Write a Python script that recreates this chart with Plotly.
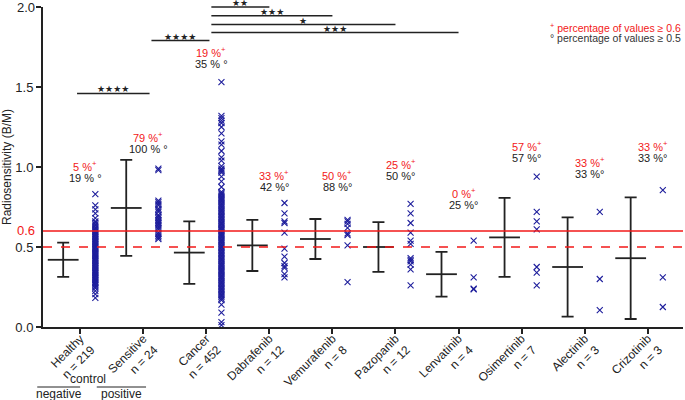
import plotly.graph_objects as go

# groups along the x axis
groups = ["Healthy", "Sensitive", "Cancer", "Dabrafenib", "Vemurafenib",
          "Pazopanib", "Lenvatinib", "Osimertinib", "Alectinib", "Crizotinib"]
n_counts = [219, 24, 452, 12, 8, 12, 4, 7, 3, 3]

# mean and SD
means = [0.42, 0.744, 0.465, 0.51, 0.55, 0.50, 0.33, 0.56, 0.375, 0.43]
sds = [0.107, 0.30, 0.195, 0.16, 0.125, 0.156, 0.14, 0.247, 0.31, 0.38]

# percentages above the two thresholds
pct_06 = [5, 79, 19, 33, 50, 25, 0, 57, 33, 33]
pct_05 = [19, 100, 35, 42, 88, 50, 25, 57, 33, 33]
pct_label_y = [1.006, 1.19, 1.72, 0.95, 0.95, 1.02, 0.84, 1.13, 1.03, 1.13]

# individual values (dense columns)
healthy_vals = [0.83, 0.76, 0.735, 0.71, 0.68, 0.66, 0.652, 0.641, 0.633, 0.622,
                0.614, 0.606, 0.598, 0.591, 0.584, 0.577, 0.569, 0.561, 0.553, 0.546,
                0.538, 0.531, 0.523, 0.516, 0.508, 0.501, 0.494, 0.486, 0.479, 0.471,
                0.463, 0.456, 0.448, 0.441, 0.433, 0.426, 0.418, 0.411, 0.403, 0.396,
                0.388, 0.381, 0.373, 0.366, 0.358, 0.351, 0.343, 0.336, 0.328, 0.321,
                0.313, 0.306, 0.298, 0.291, 0.283, 0.276, 0.268, 0.262, 0.251, 0.243,
                0.226, 0.205, 0.182]
sensitive_vals = [0.99, 0.98, 0.79, 0.78, 0.77, 0.76, 0.74, 0.73, 0.72, 0.70,
                  0.69, 0.68, 0.67, 0.66, 0.65, 0.64, 0.63, 0.62, 0.61, 0.59,
                  0.58, 0.57, 0.56, 0.55]
cancer_vals = [1.53, 1.32, 1.305, 1.29, 1.275, 1.25, 1.21, 1.16, 1.14, 1.10,
               1.06, 1.04, 1.005, 0.99, 0.982, 0.975, 0.965, 0.94, 0.91, 0.875,
               0.845, 0.836, 0.827, 0.818, 0.809, 0.80, 0.791, 0.782, 0.773, 0.764,
               0.755, 0.746, 0.737, 0.728, 0.719, 0.71, 0.701, 0.692, 0.683, 0.674,
               0.665, 0.656, 0.647, 0.638, 0.629, 0.62, 0.611, 0.602, 0.593, 0.584,
               0.575, 0.566, 0.557, 0.548, 0.539, 0.53, 0.521, 0.512, 0.503, 0.494,
               0.485, 0.476, 0.467, 0.458, 0.449, 0.44, 0.431, 0.422, 0.413, 0.404,
               0.395, 0.386, 0.377, 0.368, 0.359, 0.35, 0.341, 0.332, 0.323, 0.314,
               0.305, 0.296, 0.287, 0.278, 0.269, 0.26, 0.251, 0.242, 0.233, 0.224,
               0.215, 0.206, 0.197, 0.188, 0.178, 0.168, 0.14, 0.09, 0.03, 0.012]
dabrafenib_vals = [0.775, 0.71, 0.66, 0.65, 0.59, 0.49, 0.44, 0.40, 0.38, 0.37, 0.33, 0.31]
vemurafenib_vals = [0.67, 0.66, 0.645, 0.62, 0.585, 0.575, 0.51, 0.28]
pazopanib_vals = [0.77, 0.71, 0.65, 0.59, 0.54, 0.52, 0.43, 0.42, 0.41, 0.39, 0.36, 0.26]
lenvatinib_vals = [0.54, 0.31, 0.24, 0.235]
osimertinib_vals = [0.94, 0.72, 0.66, 0.61, 0.375, 0.34, 0.26]
alectinib_vals = [0.72, 0.30, 0.106]
crizotinib_vals = [0.856, 0.31, 0.125]
all_vals = [healthy_vals, sensitive_vals, cancer_vals, dabrafenib_vals, vemurafenib_vals,
            pazopanib_vals, lenvatinib_vals, osimertinib_vals, alectinib_vals, crizotinib_vals]

# significance bars: (from, to, height, stars)
sig_x0 = [-0.05, 1.13, 2.08, 2.08, 2.08, 2.08]
sig_x1 = [1.1, 2.05, 3.0, 4.0, 5.0, 6.0]
sig_y = [1.46, 1.79, 2.0, 1.945, 1.89, 1.84]
sig_stars = [4, 4, 2, 3, 1, 3]

RED = "#f21818"
DARK = "#222222"
BLUE = "#1e1e9c"
FONT = "Liberation Sans"


def note(text, x, y, size=12, color=DARK, xref="paper", yref="paper", **kw):
    # annotation with explicit anchors (plotly's 'auto' shifts paper-placed text)
    opts = dict(xanchor="center", yanchor="middle")
    opts.update(kw)
    fig.add_annotation(xref=xref, yref=yref, x=x, y=y, text=text, showarrow=False,
                       font=dict(size=size, color=color, family=FONT), **opts)


fig = go.Figure()

# raw values to the right of each tick
for i, vals in enumerate(all_vals):
    fig.add_trace(go.Scatter(
        x=[i + 0.24] * len(vals), y=vals, mode="markers",
        marker=dict(symbol="x-thin", size=6, line=dict(width=1.1, color=BLUE)),
        showlegend=False, hoverinfo="y"))

# mean +/- SD to the left of each tick
fig.add_trace(go.Scatter(
    x=[i - 0.27 for i in range(len(groups))], y=means, mode="markers",
    marker=dict(symbol="line-ew", size=22, line=dict(width=1.8, color=DARK)),
    error_y=dict(type="data", array=sds, width=6, thickness=1.8, color=DARK),
    showlegend=False))

# threshold lines
fig.add_shape(type="line", xref="paper", x0=0, x1=1, yref="y", y0=0.6, y1=0.6,
              line=dict(color=RED, width=1.5))
fig.add_shape(type="line", xref="paper", x0=0, x1=1, yref="y", y0=0.5, y1=0.5,
              line=dict(color=RED, width=1.5, dash="dash"))
note("0.6", 0, 0.6, size=13, color=RED, yref="y", xanchor="right", xshift=-6, yshift=1)
# top tick label (plotly drops it at the very edge)
note("2.0", 0, 1.0, size=13, xanchor="right", xshift=-6)

# significance bars with stars
for x0, x1, y, s in zip(sig_x0, sig_x1, sig_y, sig_stars):
    fig.add_shape(type="line", xref="x", yref="paper", x0=x0, x1=x1, y0=y / 2, y1=y / 2,
                  line=dict(color=DARK, width=1.5))
    fig.add_annotation(xref="x", yref="paper", x=(x0 + x1) / 2, y=y / 2, text="★" * s,
                       showarrow=False, xanchor="center", yanchor="bottom", borderpad=0, yshift=-2,
                       font=dict(size=9, color=DARK, family="DejaVu Sans"))

# percentage labels
for i in range(len(groups)):
    sep = " % °" if i < 3 else " %°"
    note(f"{pct_06[i]} %<sup>+</sup>", i + 0.08, pct_label_y[i], size=11, color=RED,
         xref="x", yref="y")
    note(f"{pct_05[i]}{sep}", i + 0.08, pct_label_y[i] - 0.075, size=11,
         xref="x", yref="y")

# key in the top right
note("<sup>+</sup> percentage of values ≥ 0.6", 1.0, 0.9375, size=10.5, color=RED, xanchor="right")
note("° percentage of values ≥ 0.5", 1.0, 0.903, size=10.5, color="#333333", xanchor="right")

# control grouping below the axis
note("control", 0.070, -0.1625)
note("negative", 0.025, -0.21)
note("positive", 0.123, -0.21)
fig.add_shape(type="line", xref="paper", yref="paper", x0=-0.009, x1=0.058, y0=-0.1875, y1=-0.1875,
              line=dict(color=DARK, width=1))
fig.add_shape(type="line", xref="paper", yref="paper", x0=0.084, x1=0.161, y0=-0.1875, y1=-0.1875,
              line=dict(color=DARK, width=1))

tick_text = [f"{g}<br>n = {n}" for g, n in zip(groups, n_counts)]

fig.update_xaxes(range=[-0.59, 9.56], tickvals=list(range(len(groups))), ticktext=tick_text,
                 tickangle=-45, showline=True, linewidth=2, linecolor=DARK,
                 ticks="outside", ticklen=5, tickwidth=1.5, tickcolor=DARK,
                 showgrid=False, zeroline=False, automargin=False, ticklabelstandoff=-7,
                 tickfont=dict(size=12, color=DARK, family=FONT))
fig.update_yaxes(range=[0, 2.0001], tickvals=[0, 0.5, 1.0, 1.5, 2.0],
                 ticktext=["0.0", "0.5", "1.0", "1.5", ""],
                 showline=True, linewidth=2, linecolor=DARK,
                 ticks="outside", ticklen=5, tickwidth=1.5, tickcolor=DARK,
                 showgrid=False, zeroline=False, automargin=False,
                 tickfont=dict(size=13, color=DARK, family=FONT),
                 title=dict(text="Radiosensitivity (B/M)", standoff=4,
                            font=dict(size=12, color=DARK, family=FONT)))

fig.update_layout(width=685, height=400, margin=dict(l=43, r=2, t=7, b=73),
                  plot_bgcolor="white", paper_bgcolor="white",
                  font=dict(family=FONT, color=DARK))

# drop the default page margin so the figure sits at the window corner
fig.write_html("out.html", config={"displayModeBar": False},
               post_script="document.body.style.margin='0';")
